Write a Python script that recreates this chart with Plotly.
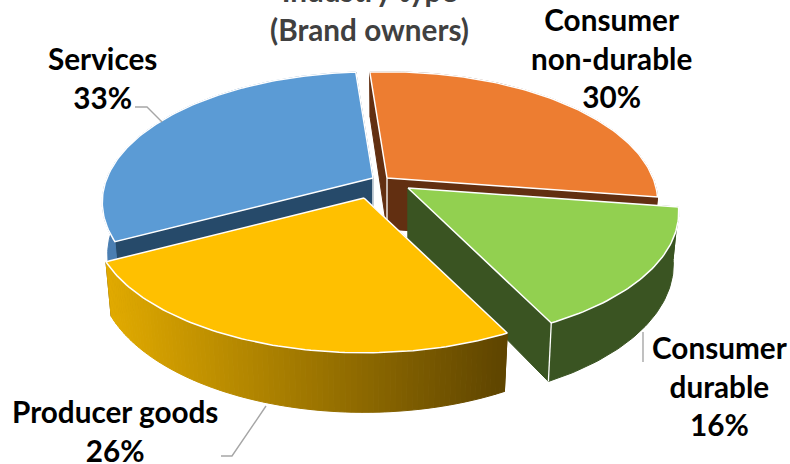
import math
import plotly.graph_objects as go

# Industry type shares, as labelled on the chart (labels sum to 105, slices are normalised)
categories = ["Consumer<br>non-durable", "Consumer<br>durable", "Producer goods", "Services"]
shares = [30, 16, 26, 33]
chart_title = "Industry type<br>(Brand owners)"

top_colors = ["#ED7D31", "#92D050", "#FFC000", "#5B9BD5"]
wall_colors = ["#622F11", "#3A5422", "#5F4500", "#264A6A"]
rim_colors = ["#622F11", "#3A5422", None, "#4A7EB2"]

# Slice apex offsets from the pie centre, in screen pixels
explode_px = [(7, -8), (28, 2), (-16, 12), (-7, -8)]

START_DEG = -4.4
CX, CY = 380, 186
RX, RY, KEYSTONE, DEPTH, BASE_SHRINK = 266, 126, 0.186, 51, 0.98


def rim_point(theta, off, low=False):
    # Perspective projection of a point on the pie's top or bottom circle
    t = math.radians(theta)
    u, v = math.sin(t), -math.cos(t)
    d = 1 - KEYSTONE * v
    s = BASE_SHRINK if low else 1.0
    h = DEPTH if low else 0.0
    return CX + off[0] + s * RX * u / d, CY + off[1] + (s * RY * v + h) / d


def apex_point(off, low=False):
    return CX + off[0], CY + off[1] + (DEPTH if low else 0.0)


def polygon(pts, fill, line=None, width=1.0):
    return go.Scatter(
        x=[p[0] for p in pts] + [pts[0][0]],
        y=[p[1] for p in pts] + [pts[0][1]],
        mode="lines",
        fill="toself",
        fillcolor=fill,
        line=dict(color=line or fill, width=width),
        hoverinfo="skip",
        showlegend=False,
    )


def edge(p, q, width=1.3):
    return go.Scatter(x=[p[0], q[0]], y=[p[1], q[1]], mode="lines",
                      line=dict(color="white", width=width),
                      hoverinfo="skip", showlegend=False)


def gold_shade(x):
    # Horizontal gradient on the producer-goods rim
    f = min(max((x - 105) / 400, 0), 1)
    left, right = (226, 171, 0), (95, 69, 0)
    return "rgb({},{},{})".format(*[round(a + (b - a) * f) for a, b in zip(left, right)])


def wedge_traces(i, a0, a1):
    off = explode_px[i]
    n = max(8, int(a1 - a0))
    angles = [a0 + (a1 - a0) * k / n for k in range(n + 1)]
    out = []
    # radial walls
    for a in (a0, a1):
        out.append(polygon([apex_point(off), rim_point(a, off), rim_point(a, off, True), apex_point(off, True)],
                           wall_colors[i]))
    # outer rim; the gradient slice is built from short quads
    if rim_colors[i]:
        ring = [rim_point(a, off) for a in angles] + [rim_point(a, off, True) for a in reversed(angles)]
        out.append(polygon(ring, rim_colors[i]))
    else:
        for p, q in zip(angles[:-1], angles[1:]):
            quad = [rim_point(p, off), rim_point(q, off), rim_point(q, off, True), rim_point(p, off, True)]
            out.append(polygon(quad, gold_shade(quad[0][0])))
    # white creases on the visible solid corners
    if i == 1:
        out.append(edge(rim_point(a1, off), rim_point(a1, off, True)))
    if i in (0, 3):
        out.append(edge(apex_point(off), apex_point(off, True)))
    # top face
    out.append(polygon([apex_point(off)] + [rim_point(a, off) for a in angles],
                       top_colors[i], "white", 1.5))
    return out


total = sum(shares)
edges = [START_DEG]
for s in shares:
    edges.append(edges[-1] + s / total * 360)

fig = go.Figure()
for i in (3, 0, 1, 2):
    fig.add_traces(wedge_traces(i, edges[i], edges[i + 1]))

# Leader lines from the outer labels to their slices
leaders = [
    ([135, 147, 162], [107, 107, 122]),
    ([221, 232, 266], [456, 456, 406]),
    ([643, 643], [332, 362]),
]
for lx, ly in leaders:
    fig.add_trace(go.Scatter(x=lx, y=ly, mode="lines", line=dict(color="#A6A6A6", width=1.4),
                             hoverinfo="skip", showlegend=False))

label_pos = [(611, 58), (719, 386), (115, 431), (102, 78)]
font = "Lato, Carlito, sans-serif"
for name, share, (x, y) in zip(categories, shares, label_pos):
    fig.add_annotation(x=x, y=y, text=f"<b>{name}<br>{share}%</b>", showarrow=False,
                       xanchor="center", yanchor="middle", align="center",
                       font=dict(family=font, size=29.7, color="#000000"))
fig.add_annotation(x=369, y=10, text=f"<b>{chart_title}</b>", showarrow=False,
                   xanchor="center", yanchor="middle", align="center",
                   font=dict(family=font, size=29.7, color="#404040"))

fig.update_layout(
    width=790, height=464,
    margin=dict(l=0, r=0, t=0, b=0),
    paper_bgcolor="white", plot_bgcolor="white",
    xaxis=dict(range=[0, 790], visible=False, fixedrange=True),
    yaxis=dict(range=[464, 0], visible=False, fixedrange=True),
)
fig.write_html("out.html", config={"displayModeBar": False})
